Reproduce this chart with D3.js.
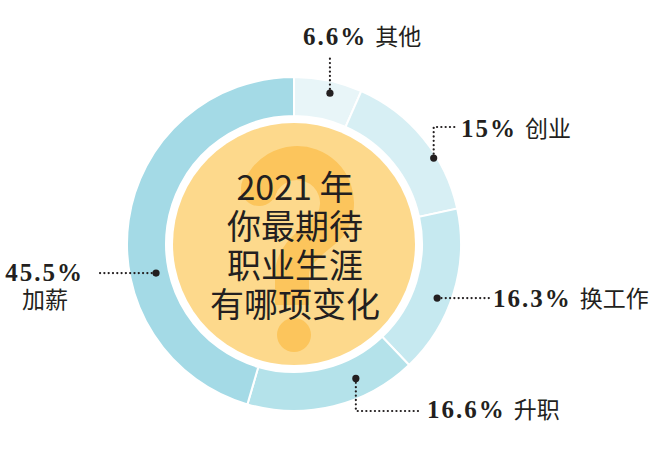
<!DOCTYPE html>
<html>
<head>
<meta charset="utf-8">
<script src="https://cdn.jsdelivr.net/npm/d3@7"></script>
<style>
  body { margin: 0; background: #fff; }
  svg { display: block; }
</style>
</head>
<body>
<script>
// data
var categories = ["其他", "创业", "换工作", "升职", "加薪"];
var values = [6.6, 15, 16.3, 16.6, 45.5];
var colors = ["#e8f5f8", "#d7eff4", "#c6e9f0", "#b4e2ea", "#a4dae6"];
var titleLines = ["2021 年", "你最期待", "职业生涯", "有哪项变化"];

var width = 667, height = 459;
var cx = 294, cy = 244;
var outerR = 167, innerR = 128, coreR = 121;

// where each leader starts (angle in degrees from top, radius), and how it bends
var leaders = [
  {angle: 13.4, r: 155, path: [["v", 56]], text: {x: 303, y: 45, anchor: "start"}},
  {angle: 58.4, r: 164, path: [["v", 127], ["h", 457]], text: {x: 461, y: 137, anchor: "start"}},
  {angle: 110.7, r: 153, path: [["h", 490]], text: {x: 493, y: 307, anchor: "start"}},
  {angle: 155.3, r: 148, path: [["v", 411], ["h", 418]], text: {x: 427, y: 418, anchor: "start"}},
  {angle: 258.1, r: 141, path: [["h", 96]], text: {x: 84, y: 281, anchor: "end", below: true}}
];

var svg = d3.select("body")
  .append("svg")
  .attr("width", width)
  .attr("height", height);

var pie = d3.pie().sort(null).value(function(d) { return d; });
var arc = d3.arc().innerRadius(innerR).outerRadius(outerR);

var g = svg.append("g").attr("transform", "translate(" + cx + "," + cy + ")");

g.selectAll(".slice")
  .data(pie(values)).enter()
  .append("path")
  .attr("class", "slice")
  .attr("d", arc)
  .attr("fill", function(d, i) { return colors[i]; })
  .attr("stroke", "#fff")
  .attr("stroke-width", 2);

// yellow core with big question mark
g.append("circle").attr("r", coreR).attr("fill", "#fdd98c");

var qColor = "#fcc55c";
var q = svg.append("g");
// hook: arc round (297,203), then down into the stem
var hx = 297, hy = 203, hr = 40;
var qp = d3.path();
qp.arc(hx, hy, hr, Math.PI + 0.15, Math.PI * 2 + 0.55);
qp.bezierCurveTo(320, 238, 292, 250, 292, 275);
qp.lineTo(292, 305);
q.append("path")
  .attr("d", qp.toString())
  .attr("fill", "none")
  .attr("stroke", qColor)
  .attr("stroke-width", 34);
q.append("circle").attr("cx", 259).attr("cy", 188).attr("r", 18).attr("fill", qColor);
q.append("circle").attr("cx", 294).attr("cy", 335).attr("r", 17).attr("fill", qColor);

var lineY = [188, 227, 266, 305];
svg.selectAll(".title")
  .data(titleLines).enter()
  .append("text")
  .attr("class", "title")
  .attr("x", cx + 1)
  .attr("y", function(d, i) { return lineY[i]; })
  .attr("dy", "0.36em")
  .attr("text-anchor", "middle")
  .style("font-family", "'Noto Sans CJK SC', sans-serif")
  .style("font-size", "34px")
  .attr("fill", "#231f20")
  .text(function(d) { return d; });

// leader lines and labels
var ink = "#231f20";
leaders.forEach(function(L, i) {
  var a = L.angle * Math.PI / 180;
  var x0 = cx + L.r * Math.sin(a), y0 = cy - L.r * Math.cos(a);
  var p = d3.path();
  p.moveTo(x0, y0);
  var x = x0, y = y0;
  L.path.forEach(function(s) {
    if (s[0] == "v") y = s[1]; else x = s[1];
    p.lineTo(x, y);
  });
  svg.append("path")
    .attr("d", p.toString())
    .attr("fill", "none")
    .attr("stroke", ink)
    .attr("stroke-width", 2.2)
    .attr("stroke-linecap", "round")
    .attr("stroke-dasharray", "0.1 4.2");
  svg.append("circle")
    .attr("cx", x0).attr("cy", y0).attr("r", 3.6)
    .attr("fill", ink);

  var t = svg.append("text")
    .attr("x", L.text.x)
    .attr("y", L.text.y)
    .attr("text-anchor", L.text.anchor)
    .attr("fill", ink);
  t.append("tspan")
    .style("font-family", "'Liberation Serif', serif")
    .style("font-weight", "bold")
    .style("font-size", "25px")
    .style("letter-spacing", "2px")
    .text(values[i] + "%");
  if (L.text.below) {
    svg.append("text")
      .attr("x", 45)
      .attr("y", L.text.y + 27)
      .attr("text-anchor", "middle")
      .style("font-family", "'Noto Sans CJK SC', sans-serif")
      .style("font-size", "23px")
      .attr("fill", ink)
      .text(categories[i]);
  } else {
    t.append("tspan")
      .attr("dx", 8)
      .style("font-family", "'Noto Sans CJK SC', sans-serif")
      .style("font-size", "23px")
      .text(categories[i]);
  }
});
</script>
</body>
</html>
